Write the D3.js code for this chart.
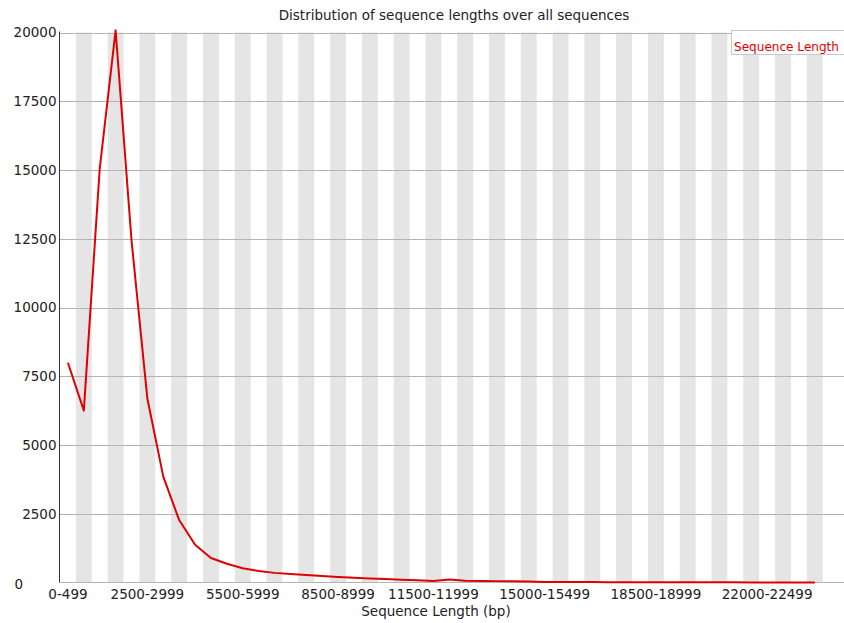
<!DOCTYPE html>
<html>
<head>
<meta charset="utf-8">
<script src="https://cdn.jsdelivr.net/npm/d3@7"></script>
<style>
  html, body { margin: 0; padding: 0; background: #fff; }
  svg { display: block; font-family: "DejaVu Sans", sans-serif; }
</style>
</head>
<body>
<svg id="chart" width="844" height="623"></svg>
<script>
// Length bins (500 bp each)
const categories = [
  "0-499","500-999","1000-1499","1500-1999","2000-2499","2500-2999",
  "3000-3499","3500-3999","4000-4499","4500-4999","5000-5499","5500-5999",
  "6000-6499","6500-6999","7000-7499","7500-7999","8000-8499","8500-8999",
  "9000-9499","9500-9999","10000-10499","10500-10999","11000-11499","11500-11999",
  "12000-12499","12500-12999","13000-13499","13500-13999","14000-14499","14500-14999",
  "15000-15499","15500-15999","16000-16499","16500-16999","17000-17499","17500-17999",
  "18000-18499","18500-18999","19000-19499","19500-19999","20000-20499","20500-20999",
  "21000-21499","21500-21999","22000-22499","22500-22999","23000-23499","23500-23999"
];

// Read counts per bin
const counts = [
  7990, 6250, 15050, 20080, 12450, 6680,
  3850, 2270, 1370, 890, 680, 520,
  420, 350, 305, 270, 235, 200,
  175, 145, 125, 100, 78, 55,
  105, 65, 55, 50, 45, 40,
  20, 18, 16, 14, 12, 11,
  10, 9, 8, 7, 6, 5,
  5, 4, 3, 3, 2, 2
];

const xTickLabels = ["0-499","2500-2999","5500-5999","8500-8999","11500-11999","15000-15499","18500-18999","22000-22499"];
const yTicks = [0, 2500, 5000, 7500, 10000, 12500, 15000, 17500, 20000];

const title = "Distribution of sequence lengths over all sequences";
const xTitle = "Sequence Length (bp)";
const seriesName = "Sequence Length";

const fontSize = 13.5;
const textColor = "#222";

const svg = d3.select("#chart");
const plotLeft = 60, plotTop = 32.5, plotBottom = 582.5;
const bandW = 15.89;
const plotRight = plotLeft + bandW * categories.length;
const gridRight = 844;

const x = d3.scaleBand().domain(categories).range([plotLeft, plotRight]).padding(0);
const y = d3.scaleLinear().domain([0, 20000]).range([plotBottom, plotTop]);

// alternating stripes
svg.append("g").selectAll("rect")
  .data(categories.filter((d, i) => i % 2 === 1))
  .join("rect")
  .attr("x", d => x(d))
  .attr("y", plotTop)
  .attr("width", x.bandwidth())
  .attr("height", plotBottom - plotTop)
  .attr("fill", "#e5e5e5");

// horizontal grid lines
svg.append("g").selectAll("line")
  .data(yTicks.filter(v => v > 0))
  .join("line")
  .attr("x1", plotLeft).attr("x2", gridRight)
  .attr("y1", d => Math.round(y(d)) + 0.5).attr("y2", d => Math.round(y(d)) + 0.5)
  .attr("stroke", "#b4b4b4").attr("stroke-width", 1);

// x axis
const xAxis = d3.axisBottom(x).tickValues(xTickLabels).tickSize(0).tickPadding(4);
const gx = svg.append("g")
  .attr("transform", `translate(0,${Math.round(plotBottom) - 0.5})`)
  .call(xAxis);
gx.select(".domain").remove();
gx.append("line")
  .attr("x1", plotLeft).attr("x2", gridRight).attr("y1", 0).attr("y2", 0)
  .attr("stroke", "#b4b4b4");
gx.selectAll("text").attr("font-size", fontSize).attr("fill", textColor)
  .attr("font-family", "DejaVu Sans, sans-serif").attr("dy", "0.9em");

// y axis
const yAxis = d3.axisLeft(y).tickValues(yTicks).tickSize(0).tickPadding(3).tickFormat(d3.format("d"));
const gy = svg.append("g")
  .attr("transform", `translate(${plotLeft - 0.5},0)`)
  .call(yAxis);
gy.select(".domain").attr("stroke", "#333").attr("d", `M0,${plotTop - 1}V${plotBottom}`);
gy.selectAll("text").attr("font-size", fontSize).attr("fill", textColor)
  .attr("font-family", "DejaVu Sans, sans-serif");
gy.selectAll(".tick").filter(d => d === 0).select("text")
  .attr("text-anchor", "start").attr("x", -45).attr("dy", "0.45em");

// series line
const line = d3.line()
  .x((d, i) => x(categories[i]) + x.bandwidth() / 2)
  .y(d => y(d));
svg.append("path")
  .datum(counts)
  .attr("d", line)
  .attr("fill", "none")
  .attr("stroke", "#e10000")
  .attr("stroke-width", 2)
  .attr("stroke-linejoin", "round");

// title
svg.append("text")
  .attr("x", 454).attr("y", 20)
  .attr("text-anchor", "middle")
  .attr("font-size", fontSize).attr("fill", textColor)
  .text(title);

// x axis title
svg.append("text")
  .attr("x", 436).attr("y", 616)
  .attr("text-anchor", "middle")
  .attr("font-size", fontSize).attr("fill", textColor)
  .text(xTitle);

// legend
svg.append("rect")
  .attr("x", 731.5).attr("y", 30.5)
  .attr("width", 130).attr("height", 24)
  .attr("fill", "#fff").attr("stroke", "#c8c8c8");
svg.append("text")
  .attr("x", 734).attr("y", 51)
  .attr("font-size", 12.5).attr("fill", "#e10000")
  .attr("textLength", 105).attr("lengthAdjust", "spacingAndGlyphs")
  .text(seriesName);
</script>
</body>
</html>
